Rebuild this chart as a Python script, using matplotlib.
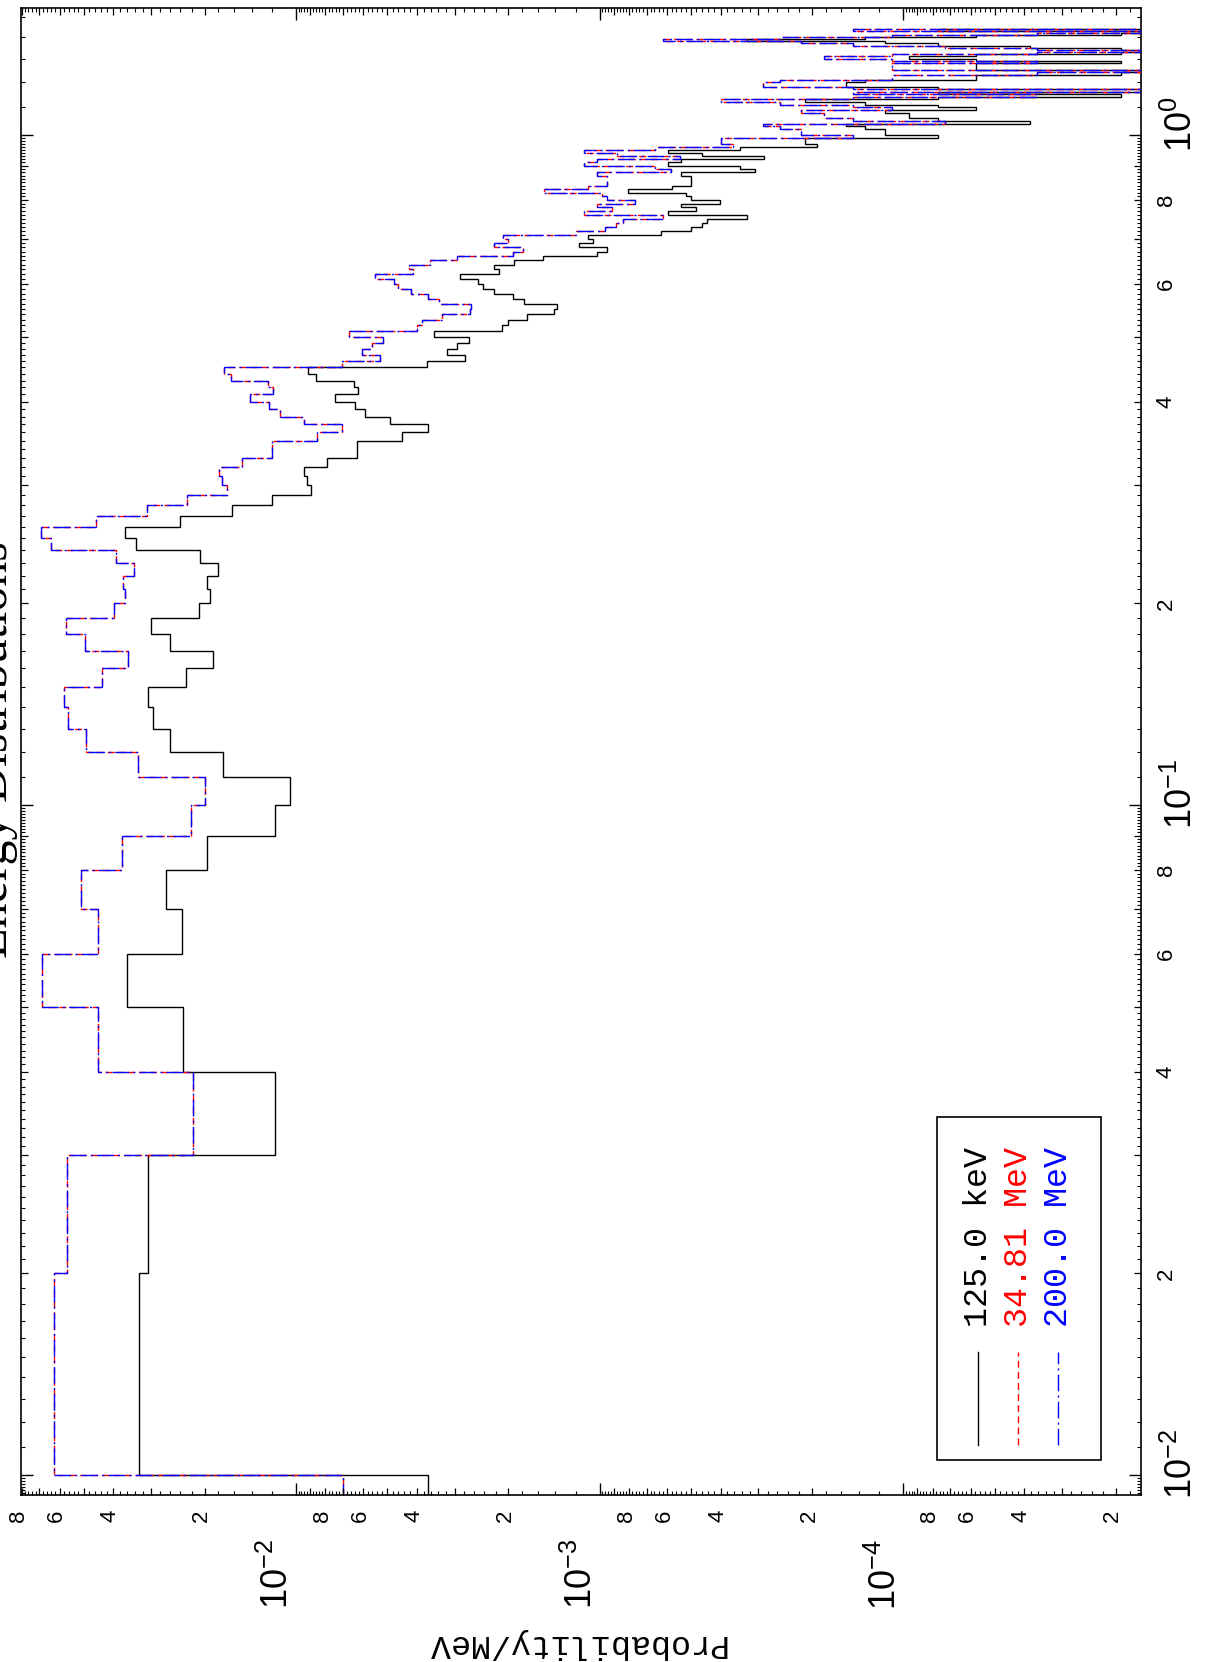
import numpy as np
import matplotlib
matplotlib.use("Agg")
import matplotlib.pyplot as plt
from matplotlib.patches import Rectangle
from matplotlib.ticker import FixedLocator, NullFormatter, NullLocator
from matplotlib.transforms import blended_transform_factory, offset_copy

plt.rcParams['mathtext.fontset'] = 'custom'
plt.rcParams['mathtext.rm'] = 'Liberation Sans'
plt.rcParams['mathtext.it'] = 'Liberation Sans:italic'

# histograms in 0.01 MeV bins, first bin is 0.00-0.01 MeV, last one (1.44) is empty
bin_width = 0.01
prob_125keV = [
    3.68e-3, 0.0329, 0.0306, 0.0117, 0.0236, 0.0361, 0.0237, 0.0268, 0.0197, 0.0117,
    0.0105, 0.0174, 0.0259, 0.0295, 0.0306, 0.0230, 0.0187, 0.0260, 0.0300, 0.0209,
    0.0192, 0.0196, 0.0181, 0.0207, 0.0336, 0.0366, 0.0240, 0.0163, 0.0120, 8.93e-3,
    9.17e-3, 9.42e-3, 7.92e-3, 6.28e-3, 6.28e-3, 4.46e-3, 3.68e-3, 4.92e-3, 5.94e-3, 6.41e-3,
    7.44e-3, 6.23e-3, 6.46e-3, 8.57e-3, 9.12e-3, 3.70e-3, 2.77e-3, 3.19e-3, 2.95e-3, 2.70e-3,
    3.51e-3, 2.09e-3, 2.01e-3, 1.73e-3, 1.41e-3, 1.38e-3, 1.77e-3, 1.93e-3, 2.22e-3, 2.42e-3,
    2.51e-3, 2.88e-3, 2.15e-3, 2.23e-3, 1.91e-3, 1.54e-3, 1.02e-3, 9.43e-4, 1.17e-3, 1.05e-3,
    1.09e-3, 6.28e-4, 5.02e-4, 4.61e-4, 4.42e-4, 3.27e-4, 5.96e-4, 4.80e-4, 5.38e-4, 4.03e-4,
    4.99e-4, 5.19e-4, 8.07e-4, 5.76e-4, 4.99e-4, 4.99e-4, 4.99e-4, 5.38e-4, 3.07e-4, 3.46e-4,
    5.96e-4, 5.38e-4, 2.88e-4, 4.61e-4, 5.96e-4, 3.46e-4, 1.92e-4, 2.11e-4, 2.11e-4, 7.68e-5,
    1.15e-4, 1.15e-4, 1.34e-4, 1.54e-4, 3.84e-5, 7.68e-5, 9.61e-5, 9.61e-5, 1.15e-4, 5.76e-5,
    7.68e-5, 1.34e-4, 2.11e-4, 7.68e-5, 1.92e-5, 7.68e-5, 0, 7.68e-5, 1.54e-4, 1.54e-4,
    1.34e-4, 5.76e-5, 5.76e-5, 1.92e-5, 0, 5.76e-5, 5.76e-5, 5.76e-5, 1.92e-5, 5.76e-5,
    9.61e-5, 5.76e-5, 1.92e-5, 0, 1.92e-5, 3.84e-5, 7.68e-5, 1.15e-4, 3.27e-4, 1.34e-4,
    5.76e-5, 1.92e-5, 0, 7.68e-5, 0,
]
prob_200MeV = [
    7.00e-3, 0.0626, 0.0569, 0.0219, 0.0450, 0.0688, 0.0450, 0.0510, 0.0374, 0.0222,
    0.0199, 0.0331, 0.0491, 0.0562, 0.0581, 0.0436, 0.0356, 0.0494, 0.0573, 0.0397,
    0.0365, 0.0372, 0.0342, 0.0392, 0.0639, 0.0693, 0.0454, 0.0309, 0.0228, 0.0169,
    0.0175, 0.0179, 0.0151, 0.0120, 0.0120, 8.50e-3, 7.03e-3, 9.40e-3, 0.0113, 0.0123,
    0.0142, 0.0119, 0.0124, 0.0164, 0.0173, 7.03e-3, 5.30e-3, 6.06e-3, 5.61e-3, 5.16e-3,
    6.69e-3, 3.98e-3, 3.84e-3, 3.31e-3, 2.68e-3, 2.65e-3, 3.38e-3, 3.68e-3, 4.18e-3, 4.61e-3,
    4.77e-3, 5.49e-3, 4.12e-3, 4.24e-3, 3.63e-3, 2.94e-3, 1.93e-3, 1.79e-3, 2.22e-3, 2.01e-3,
    2.08e-3, 1.20e-3, 9.59e-4, 8.81e-4, 8.37e-4, 6.19e-4, 1.13e-3, 9.10e-4, 1.02e-3, 7.64e-4,
    9.46e-4, 9.83e-4, 1.53e-3, 1.09e-3, 9.46e-4, 9.46e-4, 9.46e-4, 1.02e-3, 5.82e-4, 6.55e-4,
    1.13e-3, 1.02e-3, 5.46e-4, 8.74e-4, 1.13e-3, 6.55e-4, 3.64e-4, 4.00e-4, 4.00e-4, 1.46e-4,
    2.18e-4, 2.18e-4, 2.55e-4, 2.91e-4, 7.28e-5, 1.46e-4, 1.82e-4, 1.82e-4, 2.18e-4, 1.09e-4,
    1.46e-4, 2.55e-4, 4.00e-4, 1.46e-4, 3.64e-5, 1.46e-4, 0, 1.46e-4, 2.91e-4, 2.91e-4,
    2.55e-4, 1.09e-4, 1.09e-4, 3.64e-5, 0, 1.09e-4, 1.09e-4, 1.09e-4, 3.64e-5, 1.09e-4,
    1.82e-4, 1.09e-4, 3.64e-5, 0, 3.64e-5, 7.28e-5, 1.46e-4, 2.18e-4, 6.19e-4, 2.55e-4,
    1.09e-4, 3.64e-5, 0, 1.46e-4, 0,
]
# the 34.81 MeV curve lies exactly under the 200 MeV one
prob_34MeV = list(prob_200MeV)

series_names = ["125.0 keV", "34.81 MeV", "200.0 MeV"]
series_colors = ["black", "red", "blue"]
series_styles = ["-", (0, (5, 3)), (0, (12, 3, 1.5, 3))]

energy_edges = np.arange(len(prob_200MeV) + 1) * bin_width
energy_edges[0] = 0.005  # bin starts at 0, not drawable on a log axis

W, H = 1207, 1662
fig = plt.figure(figsize=(W / 100, H / 100), dpi=100)
rect = [21 / W, 1 - 1495 / H, 1120 / W, 1487 / H]
ax = fig.add_axes(rect)
xlim = (0.0804, 1.651e-5)
ylim = (0.009336, 1.5474)

for vals, col, ls, z in zip([prob_125keV, prob_34MeV, prob_200MeV], series_colors, series_styles, [2, 3, 4]):
    v = np.asarray(vals, dtype=float)
    v = np.where(v > 0, v, 1e-9)  # empty bins fall off the right edge
    ax.stairs(v, energy_edges, orientation='horizontal', baseline=None,
              color=col, linewidth=1.0, linestyle=ls, zorder=z)

ax.set_xscale('log')
ax.set_yscale('log')
ax.set_xlim(*xlim)
ax.set_ylim(*ylim)


def tick_list(exps, mults):
    return [m * 10.0 ** e for e in exps for m in mults]


fine_x = [k / 10 for k in range(12, 100, 2) if k % 10]
fine_y = [k / 10 for k in range(11, 100) if k % 10]
ax.xaxis.set_major_locator(FixedLocator([1e-4, 1e-3, 1e-2]))
ax.xaxis.set_minor_locator(FixedLocator(tick_list(range(-5, -1), fine_x)))
ax.yaxis.set_major_locator(FixedLocator([1e-2, 1e-1, 1.0]))
ax.yaxis.set_minor_locator(FixedLocator(tick_list(range(-3, 1), fine_y)))
for a in (ax.xaxis, ax.yaxis):
    a.set_major_formatter(NullFormatter())
    a.set_minor_formatter(NullFormatter())
sides = dict(top=True, bottom=True, left=True, right=True,
             labelbottom=False, labelleft=False, labeltop=False, labelright=False)
ax.tick_params(which='major', direction='in', length=8.6, width=1.0, **sides)
ax.tick_params(which='minor', direction='in', length=2.6, width=0.8, **sides)
for s in ax.spines.values():
    s.set_linewidth(1.2)

# second layer of ticks at 2..9 x 10^n, a bit longer than the fine ones
ax2 = fig.add_axes(rect, frameon=False)
ax2.set_xscale('log')
ax2.set_yscale('log')
ax2.set_xlim(*xlim)
ax2.set_ylim(*ylim)
ax2.xaxis.set_major_locator(FixedLocator(tick_list(range(-5, -1), range(2, 10))))
ax2.yaxis.set_major_locator(FixedLocator(tick_list(range(-3, 1), range(2, 10))))
for a in (ax2.xaxis, ax2.yaxis):
    a.set_minor_locator(NullLocator())
    a.set_major_formatter(NullFormatter())
ax2.tick_params(which='major', direction='in', length=5.0, width=0.9, **sides)

# tick labels, everything turned a quarter turn like the page
bottom = blended_transform_factory(ax.transData, ax.transAxes)
right = blended_transform_factory(ax.transAxes, ax.transData)
num_font = dict(family='Liberation Sans', rotation=90)
for e in range(-5, -1):
    for k in (2, 4, 6, 8):
        v = k * 10.0 ** e
        if xlim[1] <= v <= xlim[0]:
            ax.text(v, 0, str(k), transform=offset_copy(bottom, fig=fig, x=-3, y=-15, units='dots'),
                    ha='center', va='top', fontsize=16, **num_font)
for e in (-4, -3, -2):
    ax.text(10.0 ** e, 0, r'$10^{%d}$' % e,
            transform=offset_copy(bottom, fig=fig, x=-18, y=-44, units='dots'),
            ha='center', va='top', fontsize=26, **num_font)
for e in range(-3, 1):
    for k in (2, 4, 6, 8):
        v = k * 10.0 ** e
        if ylim[0] <= v <= ylim[1]:
            ax.text(1, v, str(k), transform=offset_copy(right, fig=fig, x=15, y=0, units='dots'),
                    ha='left', va='center', fontsize=16, **num_font)
for e in (-2, -1, 0):
    ax.text(1, 10.0 ** e, r'$10^{%d}$' % e,
            transform=offset_copy(right, fig=fig, x=23, y=11, units='dots'),
            ha='left', va='center', fontsize=26, **num_font)

# legend box drawn by hand so it can be turned with the rest
ax.add_patch(Rectangle((0.818, 0.0235), 0.146, 0.2305, transform=ax.transAxes,
                       fill=False, edgecolor='black', linewidth=1.2, zorder=6))
for i, (name, col, ls) in enumerate(zip(series_names, series_colors, series_styles)):
    xc = 0.8545 + i * 0.0357
    ax.plot([xc, xc], [0.0336, 0.0962], transform=ax.transAxes, color=col,
            linestyle=ls, linewidth=1.0, zorder=6)
    ax.text(xc, 0.113, name, transform=ax.transAxes, rotation=90, ha='center',
            va='bottom', fontsize=24, color=col, family='Liberation Mono', zorder=6)

fig.text(575 / W, 1 - 1643 / H, 'Probability/MeV', rotation=180, ha='center', va='center',
         fontsize=24, family='Liberation Mono')
fig.text(7 / W, 1 - 750 / H, 'Energy Distributions', rotation=90, rotation_mode='anchor',
         ha='center', va='baseline', fontsize=36, family='Liberation Serif')

fig.savefig('out.png', dpi=100)
